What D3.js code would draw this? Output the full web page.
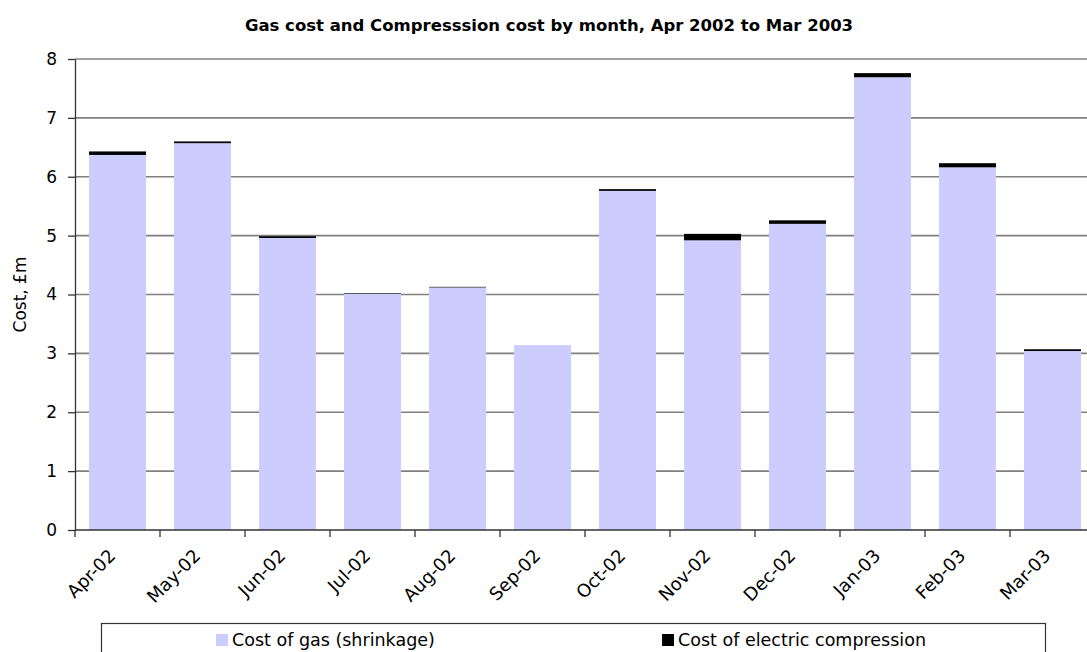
<!DOCTYPE html>
<html>
<head>
<meta charset="utf-8">
<script src="https://cdn.jsdelivr.net/npm/d3@7"></script>
<style>
  html, body { margin: 0; padding: 0; background: #fff; }
  svg { display: block; font-family: "DejaVu Sans", sans-serif; }
</style>
</head>
<body>
<svg id="chart" width="1087" height="652"></svg>
<script>
// Monthly costs, £m
const months = ["Apr-02","May-02","Jun-02","Jul-02","Aug-02","Sep-02","Oct-02","Nov-02","Dec-02","Jan-03","Feb-03","Mar-03"];
const gasCost = [6.37, 6.57, 4.96, 4.01, 4.12, 3.14, 5.76, 4.92, 5.20, 7.69, 6.16, 3.04];
const compressionCost = [0.06, 0.03, 0.03, 0.01, 0.01, 0.0, 0.03, 0.11, 0.06, 0.07, 0.07, 0.03];
const yTicks = [0, 1, 2, 3, 4, 5, 6, 7, 8];
const seriesNames = ["Cost of gas (shrinkage)", "Cost of electric compression"];
const seriesColors = ["#ccccff", "#000000"];

const FONT = "'DejaVu Sans', sans-serif";
const svg = d3.select("#chart");
const plotLeft = 75, plotTop = 59, plotBottom = 530, step = 85;
const plotRight = plotLeft + step * months.length;

const x = d3.scaleBand().domain(months).range([plotLeft, plotRight]).padding(0);
const y = d3.scaleLinear().domain([0, 8]).range([plotBottom, plotTop]);
const barW = x.bandwidth() * 0.67;

// Title
svg.append("text")
  .attr("x", 549).attr("y", 31)
  .attr("text-anchor", "middle")
  .attr("font-weight", "bold")
  .attr("font-size", 16.5)
  .text("Gas cost and Compresssion cost by month, Apr 2002 to Mar 2003");

// Horizontal gridlines
svg.append("g").selectAll("line")
  .data(yTicks.filter(d => d > 0))
  .join("line")
  .attr("x1", plotLeft).attr("x2", plotRight)
  .attr("y1", d => y(d)).attr("y2", d => y(d))
  .attr("stroke", "#808080").attr("stroke-width", 1.6);

// Stacked bars: gas at the bottom, compression on top
const rows = months.map((m, i) => ({ m, gas: gasCost[i], comp: compressionCost[i] }));
const stack = d3.stack().keys(["gas", "comp"])(rows);

svg.append("g").selectAll("g")
  .data(stack)
  .join("g")
  .attr("fill", (d, i) => seriesColors[i])
  .selectAll("rect")
  .data(d => d)
  .join("rect")
  .attr("x", d => x(d.data.m) + (x.bandwidth() - barW) / 2)
  .attr("width", barW)
  .attr("y", d => y(d[1]))
  .attr("height", d => Math.max(0, y(d[0]) - y(d[1])));

// Y axis
const yAxis = svg.append("g")
  .attr("transform", `translate(${plotLeft},0)`)
  .call(d3.axisLeft(y).tickValues(yTicks).tickSize(7).tickPadding(11).tickSizeOuter(0));
yAxis.select(".domain").attr("stroke", "#333").attr("stroke-width", 1.3);
yAxis.selectAll(".tick line").attr("stroke", "#333").attr("stroke-width", 1.3);
yAxis.selectAll(".tick text").attr("font-size", 17).attr("fill", "#000")
  .attr("font-family", FONT);

// X axis with ticks on category boundaries
const xAxisG = svg.append("g");
xAxisG.append("line")
  .attr("x1", plotLeft).attr("x2", plotRight)
  .attr("y1", plotBottom).attr("y2", plotBottom)
  .attr("stroke", "#333").attr("stroke-width", 1.3);
xAxisG.selectAll("line.tick")
  .data(months)
  .join("line")
  .attr("class", "tick")
  .attr("x1", d => x(d)).attr("x2", d => x(d))
  .attr("y1", plotBottom).attr("y2", plotBottom + 7)
  .attr("stroke", "#333").attr("stroke-width", 1.3);
xAxisG.selectAll("text")
  .data(months)
  .join("text")
  .attr("transform", d => `translate(${x(d) + x.bandwidth() / 2 - 1},${plotBottom + 27}) rotate(-45)`)
  .attr("text-anchor", "end")
  .attr("font-size", 18)
  .text(d => d);

// Y axis title
svg.append("text")
  .attr("transform", `translate(26,${(plotTop + plotBottom) / 2}) rotate(-90)`)
  .attr("text-anchor", "middle")
  .attr("font-size", 17)
  .text("Cost, £m");

// Legend
const legend = svg.append("g");
legend.append("rect")
  .attr("x", 101.5).attr("y", 623.5)
  .attr("width", 944).attr("height", 40)
  .attr("fill", "#fff").attr("stroke", "#333").attr("stroke-width", 1.2);
const legendX = [216, 662];
seriesNames.forEach((name, i) => {
  legend.append("rect")
    .attr("x", legendX[i]).attr("y", 634)
    .attr("width", 12).attr("height", 12)
    .attr("fill", seriesColors[i]);
  legend.append("text")
    .attr("x", legendX[i] + 16).attr("y", 646)
    .attr("font-size", 17.5)
    .text(name);
});
</script>
</body>
</html>
